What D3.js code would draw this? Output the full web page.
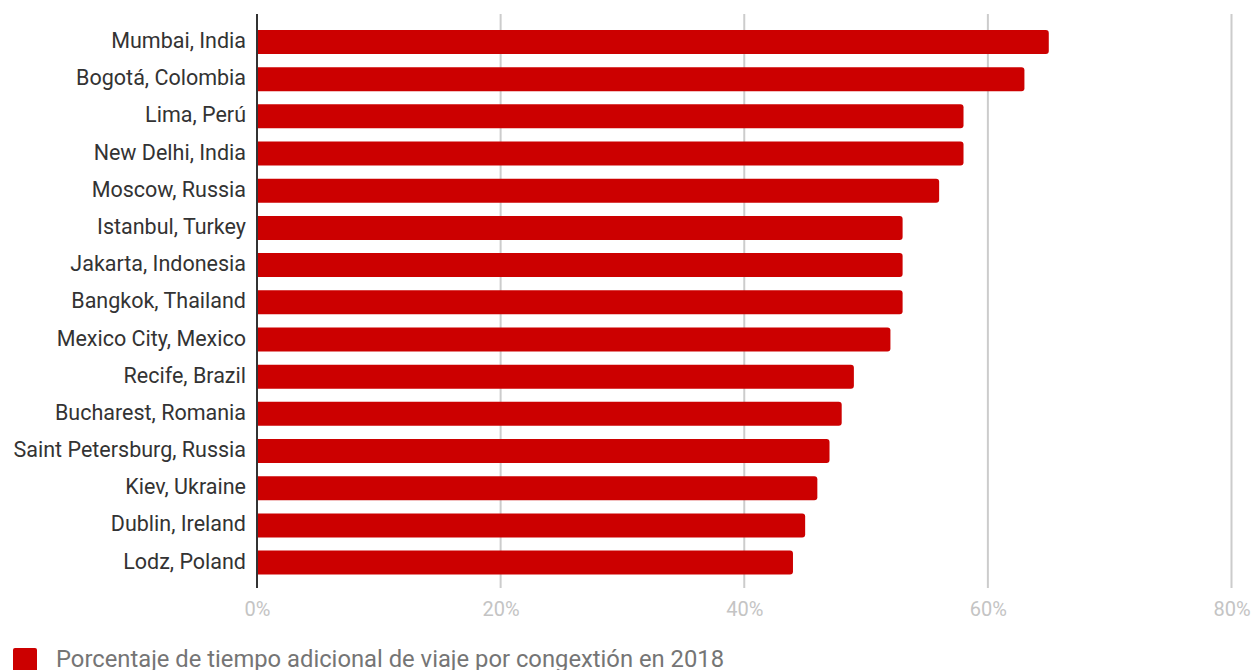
<!DOCTYPE html>
<html>
<head>
<meta charset="utf-8">
<script src="https://cdn.jsdelivr.net/npm/d3@7"></script>
<style>
  body { margin: 0; background: #fff; }
  svg { font-family: Roboto, "Noto Sans", sans-serif; }
</style>
</head>
<body>
<svg width="1252" height="670"></svg>
<script>
// data
var cities = ["Mumbai, India", "Bogotá, Colombia", "Lima, Perú", "New Delhi, India",
  "Moscow, Russia", "Istanbul, Turkey", "Jakarta, Indonesia", "Bangkok, Thailand",
  "Mexico City, Mexico", "Recife, Brazil", "Bucharest, Romania", "Saint Petersburg, Russia",
  "Kiev, Ukraine", "Dublin, Ireland", "Lodz, Poland"];
var congestion = [65, 63, 58, 58, 56, 53, 53, 53, 52, 49, 48, 47, 46, 45, 44];
var ticks = [0, 20, 40, 60, 80];
var legendLabel = "Porcentaje de tiempo adicional de viaje por congextión en 2018";

function draw() {
  var data = cities.map(function(c, i) { return { city: c, value: congestion[i] }; });

  var svg = d3.select("svg");
  var plotLeft = 257, plotRight = 1231.5, plotTop = 23.4, plotBottom = 581.2;

  var xs = d3.scaleLinear().domain([0, 80]).range([plotLeft, plotRight]);
  var ys = d3.scaleBand().domain(cities).range([plotTop, plotBottom])
    .paddingInner(0.355).paddingOuter(0.1775);

  // grid lines
  svg.append("g")
    .selectAll("line")
    .data(ticks.slice(1))
    .enter()
    .append("line")
    .attr("x1", function(d) { return xs(d); })
    .attr("x2", function(d) { return xs(d); })
    .attr("y1", 14)
    .attr("y2", 588)
    .attr("stroke", "#cccccc")
    .attr("stroke-width", 2);

  // bars, rounded on the right end
  var r = 3;
  svg.append("g")
    .selectAll("path")
    .data(data)
    .enter()
    .append("path")
    .attr("fill", "#cc0000")
    .attr("d", function(d) {
      var x0 = xs(0), x1 = xs(d.value), y0 = ys(d.city), h = ys.bandwidth();
      return "M" + x0 + "," + y0 +
        "H" + (x1 - r) +
        "Q" + x1 + "," + y0 + " " + x1 + "," + (y0 + r) +
        "V" + (y0 + h - r) +
        "Q" + x1 + "," + (y0 + h) + " " + (x1 - r) + "," + (y0 + h) +
        "H" + x0 + "Z";
    });

  // baseline
  svg.append("line")
    .attr("x1", xs(0)).attr("x2", xs(0))
    .attr("y1", 14).attr("y2", 588)
    .attr("stroke", "#333333")
    .attr("stroke-width", 2);

  // category labels
  var yAxis = svg.append("g")
    .attr("transform", "translate(" + (xs(0) - 11) + ",0)")
    .call(d3.axisLeft(ys).tickSize(0).tickPadding(0));
  yAxis.select(".domain").remove();
  yAxis.selectAll("text")
    .attr("dy", "0.28em")
    .attr("font-family", "Roboto, sans-serif")
    .attr("font-size", 21.5)
    .attr("fill", "#333333");

  // value ticks
  var xAxis = svg.append("g")
    .attr("transform", "translate(0,601.8)")
    .call(d3.axisBottom(xs).tickValues(ticks).tickSize(0).tickPadding(0)
      .tickFormat(function(d) { return d + "%"; }));
  xAxis.select(".domain").remove();
  xAxis.selectAll("text")
    .attr("font-family", "Roboto, sans-serif")
    .attr("font-size", 20)
    .attr("fill", "#c4c4c4");

  // legend
  svg.append("rect")
    .attr("x", 13).attr("y", 648)
    .attr("width", 24).attr("height", 24)
    .attr("rx", 2)
    .attr("fill", "#cc0000");
  svg.append("text")
    .attr("x", 56).attr("y", 666.7)
    .attr("font-size", 24)
    .attr("textLength", 668)
    .attr("lengthAdjust", "spacingAndGlyphs")
    .attr("fill", "#757575")
    .text(legendLabel);
}

draw();
</script>
</body>
</html>
